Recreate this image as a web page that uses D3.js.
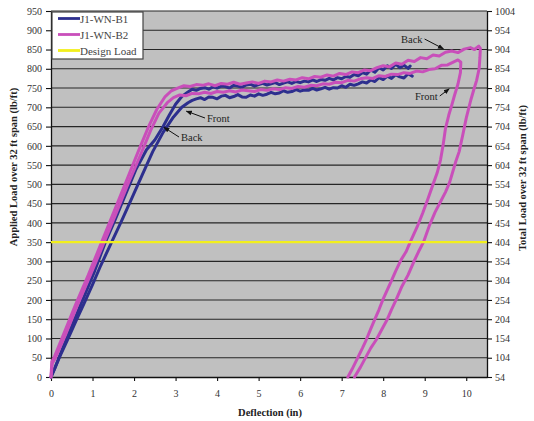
<!DOCTYPE html>
<html>
<head>
<meta charset="utf-8">
<script src="https://cdn.jsdelivr.net/npm/d3@7"></script>
<style>
  html, body { margin: 0; padding: 0; background: #fff; }
  svg { display: block; font-family: "Liberation Serif", "Times New Roman", serif; }
</style>
</head>
<body>
<svg id="chart" width="534" height="421"></svg>
<script>
// Load–deflection curves, [deflection (in), applied load (lb/ft)]
const b1Front = [
  [0,0],[0.05,12],[0.2,50],[0.4,97],[0.6,145],[0.8,192],[1.0,240],[1.2,290],[1.46,350],[1.7,405],
  [1.95,465],[2.2,525],[2.45,585],[2.7,635],[2.95,675],[3.15,700],[3.3,712],[3.4,718],
  [3.5,722],[3.6,725],[3.7,720],[3.8,727],[3.9,726],[4.0,722],[4.1,729],[4.2,731],[4.3,725],[4.4,728],
  [4.5,733],[4.6,727],[4.7,726],[4.8,732],[4.9,729],[5.0,735],[5.1,731],[5.2,734],[5.3,739],[5.4,735],
  [5.5,737],[5.6,743],[5.7,739],[5.8,741],[5.9,746],[6.0,742],[6.1,745],[6.2,744],[6.3,749],[6.4,745],
  [6.5,748],[6.6,752],[6.7,747],[6.8,751],[6.9,750],[7.0,756],[7.1,752],[7.2,760],[7.3,757],[7.4,761],
  [7.5,766],[7.6,763],[7.7,771],[7.8,767],[7.9,777],[8.0,772],[8.1,781],[8.2,775],[8.3,785],[8.4,779],
  [8.5,776],[8.6,787],[8.7,781]
];
const b1Back = [
  [0,0],[0.1,25],[0.3,80],[0.55,145],[0.8,210],[1.05,275],[1.31,350],[1.55,410],[1.8,475],[2.05,540],
  [2.3,590],[2.5,615],[2.7,650],[2.85,680],[3.0,708],[3.15,728],
  [3.3,740],[3.4,747],[3.5,744],[3.6,749],[3.7,751],[3.8,747],[3.9,753],[4.0,750],[4.1,755],[4.2,754],
  [4.3,750],[4.4,757],[4.5,755],[4.6,752],[4.7,758],[4.8,760],[4.9,755],[5.0,759],[5.1,762],[5.2,758],
  [5.3,761],[5.4,764],[5.5,759],[5.6,763],[5.7,766],[5.8,762],[5.9,767],[6.0,764],[6.1,768],[6.2,766],
  [6.3,771],[6.4,767],[6.5,772],[6.6,770],[6.7,775],[6.8,771],[6.9,777],[7.0,774],[7.1,780],[7.2,778],
  [7.3,785],[7.4,782],[7.5,790],[7.6,786],[7.7,797],[7.8,791],[7.9,803],[8.0,797],[8.1,808],[8.2,801],
  [8.3,812],[8.4,803],[8.5,809],[8.6,801],[8.65,807]
];
const b2Back = [
  [0,0],[0.02,40],[0.08,52],[0.3,110],[0.6,190],[0.9,265],[1.2,345],[1.5,425],[1.8,505],[2.1,585],
  [2.35,650],[2.55,695],[2.75,728],[2.9,743],
  [3.05,750],[3.2,756],[3.35,754],[3.5,759],[3.65,757],[3.8,761],[3.95,756],[4.1,762],[4.25,760],[4.4,765],
  [4.55,760],[4.7,763],[4.85,766],[5.0,762],[5.15,768],[5.3,766],[5.45,771],[5.6,768],[5.75,773],[5.9,771],
  [6.05,777],[6.2,774],[6.35,780],[6.5,778],[6.65,784],[6.8,781],[6.95,788],[7.1,785],[7.25,792],[7.4,790],
  [7.55,797],[7.7,795],[7.85,803],[8.0,808],[8.15,805],[8.3,815],[8.45,812],[8.6,822],[8.75,819],[8.9,829],
  [9.05,826],[9.2,836],[9.35,833],[9.5,843],[9.65,846],[9.8,842],[9.95,851],[10.1,855],[10.2,850],[10.3,859],
  [10.34,853],
  [10.33,830],[10.31,800],[10.25,770],[10.18,745],[10.11,719],[10.0,672],[9.92,630],[9.83,585],[9.75,560],
  [9.6,505],[9.5,480],[9.38,455],[9.25,428],[9.12,395],[8.97,350],[8.85,325],[8.75,302],[8.6,265],
  [8.45,235],[8.31,200],[8.2,175],[8.1,150],[7.95,120],[7.83,96],[7.7,75],[7.55,45],[7.45,25],[7.31,0]
];
const b2Front = [
  [0,0],[0.03,35],[0.1,48],[0.35,110],[0.65,190],[0.95,265],[1.25,342],[1.55,420],[1.85,500],[2.15,575],
  [2.4,640],[2.6,685],[2.8,712],
  [2.95,725],[3.1,732],[3.25,730],[3.4,736],[3.55,735],[3.7,739],[3.85,736],[4.0,741],[4.15,739],[4.3,743],
  [4.45,740],[4.6,745],[4.75,743],[4.9,741],[5.05,746],[5.2,744],[5.35,748],[5.5,746],[5.65,751],[5.8,749],
  [5.95,754],[6.1,752],[6.25,757],[6.4,756],[6.55,761],[6.7,760],[6.85,765],[7.0,764],[7.15,770],[7.3,768],
  [7.45,774],[7.6,777],[7.75,775],[7.9,782],[8.05,780],[8.2,786],[8.35,785],[8.5,790],[8.65,788],[8.8,794],
  [8.95,792],[9.1,798],[9.25,800],[9.4,809],[9.55,810],[9.7,818],[9.8,823],[9.87,817],
  [9.86,790],[9.8,760],[9.72,732],[9.65,705],[9.58,680],[9.5,645],[9.44,600],[9.38,563],[9.3,530],
  [9.2,500],[9.07,460],[8.95,425],[8.82,390],[8.65,350],[8.55,325],[8.43,304],[8.3,275],[8.2,250],
  [7.99,200],[7.9,175],[7.8,150],[7.7,125],[7.59,96],[7.5,75],[7.35,42],[7.25,20],[7.15,0]
];
const designLoad = 350;
const totalLoadOffset = 54;

const xTicks = [0,1,2,3,4,5,6,7,8,9,10];
const yTicks = d3.range(0, 951, 50);
const yRightTicks = d3.range(54, 1005, 50);

const seriesNames = ["J1-WN-B1", "J1-WN-B2", "Design Load"];
const seriesColors = ["#2d2f8e", "#c94fba", "#f2ef1c"];

const annotations = [
  { text: "Front", tx: 207, ty: 122, d: 3.26, L: 690 },
  { text: "Back",  tx: 181, ty: 141, d: 2.72, L: 648 },
  { text: "Back",  tx: 401, ty: 43,  d: 9.45, L: 852 },
  { text: "Front", tx: 415, ty: 100, d: 9.59, L: 748 }
];

const svg = d3.select("#chart");
const x = d3.scaleLinear().domain([0, 10.5]).range([51, 487]);
const y = d3.scaleLinear().domain([0, 950]).range([377, 11]);
const yR = d3.scaleLinear().domain([totalLoadOffset, 950 + totalLoadOffset]).range([377, 11]);

// plot area
svg.append("rect")
  .attr("x", x(0)).attr("y", y(950))
  .attr("width", x(10.5) - x(0)).attr("height", y(0) - y(950))
  .attr("fill", "#c0c0c0");

// horizontal gridlines
svg.append("g").selectAll("line").data(yTicks.filter(v => v > 0)).join("line")
  .attr("x1", x(0)).attr("x2", x(10.5))
  .attr("y1", d => y(d)).attr("y2", d => y(d))
  .attr("stroke", "#262626").attr("stroke-width", 1.1);

// axes
function styleAxis(g) {
  g.selectAll("path.domain").attr("stroke", "#111").attr("stroke-width", 1.3);
  g.selectAll(".tick line").attr("stroke", "#111").attr("stroke-width", 1.1);
  g.selectAll(".tick text").attr("fill", "#333").attr("font-size", 10)
    .attr("font-family", "Liberation Serif, serif");
}
svg.append("g").attr("transform", `translate(${x(0)},0)`)
  .call(d3.axisLeft(y).tickValues(yTicks).tickFormat(d3.format("d"))
    .tickSize(5).tickPadding(4).tickSizeOuter(0))
  .call(styleAxis);
svg.append("g").attr("transform", `translate(${x(10.5)},0)`)
  .call(d3.axisRight(yR).tickValues(yRightTicks).tickFormat(d3.format("d"))
    .tickSize(5).tickPadding(3).tickSizeOuter(0))
  .call(styleAxis);
svg.append("g").attr("transform", `translate(0,${y(0)})`)
  .call(d3.axisBottom(x).tickValues(xTicks).tickFormat(d3.format("d"))
    .tickSize(4).tickPadding(9).tickSizeOuter(0))
  .call(styleAxis);

// curves
const line = d3.line().x(d => x(d[0])).y(d => y(d[1]));
const curves = [
  { data: b1Front, color: seriesColors[0] },
  { data: b1Back,  color: seriesColors[0] },
  { data: b2Front, color: seriesColors[1] },
  { data: b2Back,  color: seriesColors[1] }
];
svg.append("g").selectAll("path").data(curves).join("path")
  .attr("d", c => line(c.data))
  .attr("fill", "none")
  .attr("stroke", c => c.color)
  .attr("stroke-width", 3)
  .attr("stroke-linejoin", "round")
  .attr("stroke-linecap", "round");

// design load
svg.append("line")
  .attr("x1", x(0)).attr("x2", x(10.5))
  .attr("y1", y(designLoad)).attr("y2", y(designLoad))
  .attr("stroke", seriesColors[2]).attr("stroke-width", 2.4);

// annotations with arrows
svg.append("defs").append("marker")
  .attr("id", "arrowhead").attr("viewBox", "0 0 10 10")
  .attr("refX", 9).attr("refY", 5)
  .attr("markerWidth", 6).attr("markerHeight", 6)
  .attr("orient", "auto")
  .append("path").attr("d", "M0,1 L10,5 L0,9 Z").attr("fill", "#111");

const ann = svg.append("g");
annotations.forEach(a => {
  const t = ann.append("text")
    .attr("x", a.tx).attr("y", a.ty)
    .attr("font-size", 10.5).attr("fill", "#222")
    .text(a.text);
  const startX = a.tx > x(a.d) ? a.tx - 2 : a.tx + t.node().getComputedTextLength() + 2;
  const startY = a.ty - 4;
  ann.append("line")
    .attr("x1", startX).attr("y1", startY)
    .attr("x2", x(a.d)).attr("y2", y(a.L))
    .attr("stroke", "#111").attr("stroke-width", 1)
    .attr("marker-end", "url(#arrowhead)");
});

// legend
const lg = svg.append("g");
lg.append("rect").attr("x", 52).attr("y", 12).attr("width", 91).attr("height", 47)
  .attr("fill", "#fff").attr("stroke", "#444").attr("stroke-width", 1.2);
seriesNames.forEach((name, i) => {
  const yy = 18.5 + i * 16;
  lg.append("line").attr("x1", 58).attr("x2", 80).attr("y1", yy).attr("y2", yy)
    .attr("stroke", seriesColors[i]).attr("stroke-width", 2.8);
  lg.append("text").attr("x", 80).attr("y", yy + 4)
    .attr("font-size", 11).attr("fill", "#444").text(name);
});

// axis titles
svg.append("text")
  .attr("transform", "translate(17,167) rotate(-90)")
  .attr("text-anchor", "middle").attr("font-weight", "bold").attr("font-size", 10.5)
  .attr("fill", "#222").text("Applied Load over 32 ft span (lb/ft)");
svg.append("text")
  .attr("transform", "translate(526,178) rotate(-90)")
  .attr("text-anchor", "middle").attr("font-weight", "bold").attr("font-size", 10.5)
  .attr("fill", "#222").text("Total Load over 32 ft span (lb/ft)");
svg.append("text")
  .attr("x", 270).attr("y", 416)
  .attr("text-anchor", "middle").attr("font-weight", "bold").attr("font-size", 10.5)
  .attr("fill", "#222").text("Deflection (in)");
</script>
</body>
</html>
